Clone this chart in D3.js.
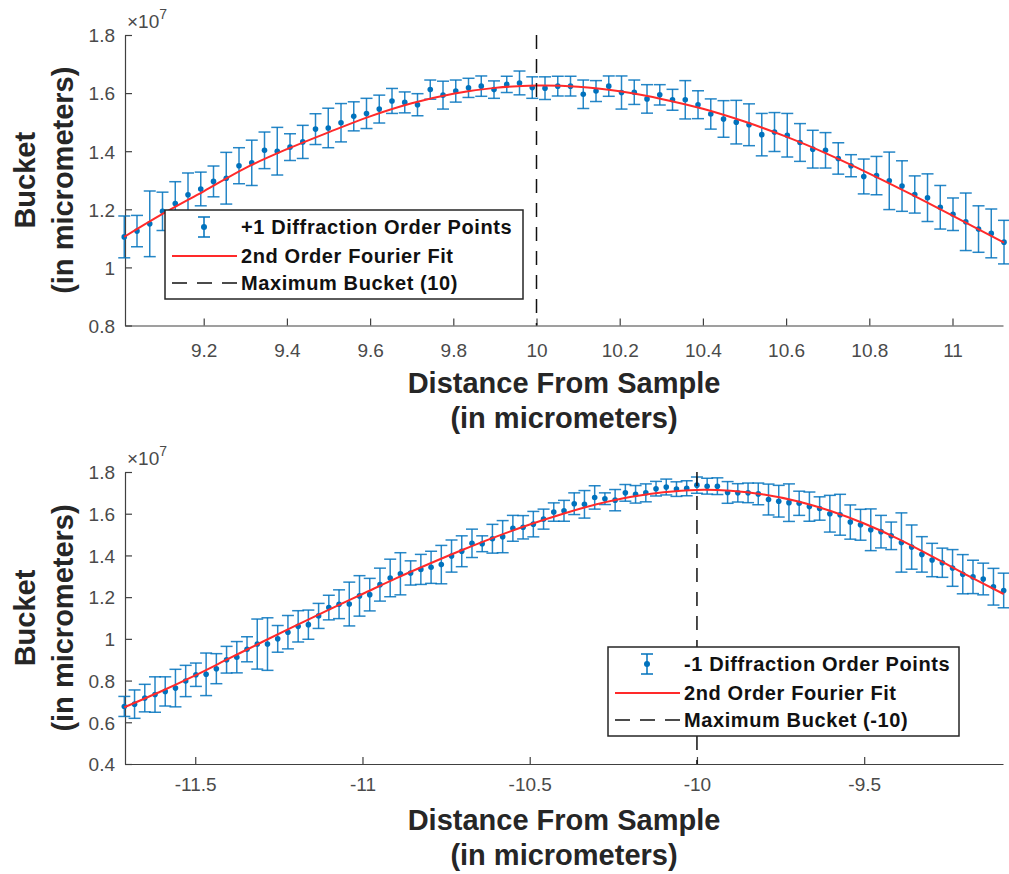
<!DOCTYPE html>
<html>
<head>
<meta charset="utf-8">
<script src="https://cdn.jsdelivr.net/npm/d3@7"></script>
<style>
body { margin: 0; background: #fff; }
svg { display: block; font-family: "Liberation Sans", Arial, Helvetica, sans-serif; }
</style>
</head>
<body>
<script>
// values are in units of 1e7 (the axes show "x10^7")

// +1 diffraction order: distance grid start / step (micrometers)
var plusStart = 9.009, plusStep = 0.03065;
var plusBucket = [1.105,1.125,1.150,1.193,1.220,1.250,1.270,1.296,1.307,1.350,
                  1.360,1.403,1.400,1.414,1.432,1.476,1.480,1.498,1.520,1.530,
                  1.545,1.573,1.568,1.560,1.612,1.593,1.607,1.618,1.624,1.612,
                  1.630,1.635,1.619,1.617,1.624,1.624,1.596,1.607,1.624,1.602,
                  1.603,1.580,1.594,1.577,1.577,1.560,1.528,1.511,1.500,1.491,
                  1.457,1.466,1.455,1.430,1.407,1.403,1.375,1.350,1.313,1.316,
                  1.298,1.280,1.251,1.240,1.207,1.183,1.157,1.132,1.117,1.087];
var plusErr = [0.072,0.054,0.113,0.066,0.075,0.075,0.058,0.053,0.089,0.062,
               0.078,0.063,0.082,0.046,0.057,0.053,0.068,0.066,0.050,0.052,
               0.048,0.043,0.036,0.038,0.033,0.048,0.038,0.033,0.035,0.030,
               0.028,0.041,0.037,0.039,0.034,0.034,0.049,0.036,0.035,0.057,
               0.042,0.049,0.035,0.036,0.066,0.048,0.052,0.063,0.075,0.072,
               0.073,0.067,0.075,0.065,0.065,0.061,0.054,0.038,0.060,0.066,
               0.099,0.087,0.064,0.082,0.075,0.056,0.099,0.080,0.084,0.075];
// fourier fit
var plusFitX = [9.009,9.1,9.2,9.3,9.4,9.5,9.6,9.7,9.8,9.9,10.0,10.1,10.2,10.3,10.4,10.5,10.6,10.7,10.8,10.9,11.0,11.124];
var plusFitY = [1.105,1.183,1.262,1.342,1.407,1.465,1.520,1.565,1.598,1.618,1.626,1.622,1.606,1.580,1.546,1.502,1.450,1.390,1.323,1.252,1.178,1.085];
var plusMax = 10;
var plusTicksX = [9.2,9.4,9.6,9.8,10,10.2,10.4,10.6,10.8,11];
var plusTicksY = [0.8,1,1.2,1.4,1.6,1.8];

// -1 diffraction order
var minusStart = -11.712, minusStep = 0.03057;
var minusBucket = [0.676,0.687,0.716,0.733,0.748,0.764,0.798,0.828,0.830,0.857,
                   0.900,0.912,0.950,0.975,0.975,1.000,1.032,1.060,1.068,1.110,
                   1.150,1.166,1.167,1.206,1.212,1.260,1.292,1.312,1.316,1.333,
                   1.343,1.356,1.397,1.420,1.458,1.456,1.480,1.490,1.530,1.535,
                   1.550,1.574,1.608,1.614,1.648,1.645,1.678,1.672,1.665,1.700,
                   1.693,1.700,1.720,1.728,1.718,1.722,1.737,1.732,1.732,1.702,
                   1.700,1.700,1.695,1.668,1.660,1.653,1.650,1.634,1.625,1.600,
                   1.595,1.560,1.547,1.523,1.514,1.494,1.462,1.440,1.405,1.378,
                   1.365,1.340,1.310,1.297,1.287,1.250,1.232];
var minusErr = [0.048,0.068,0.066,0.085,0.070,0.090,0.075,0.056,0.102,0.072,
                0.064,0.075,0.060,0.120,0.126,0.064,0.080,0.075,0.070,0.060,
                0.059,0.069,0.105,0.097,0.078,0.079,0.090,0.101,0.058,0.072,
                0.077,0.092,0.077,0.074,0.068,0.038,0.069,0.077,0.062,0.056,
                0.061,0.048,0.044,0.050,0.052,0.066,0.056,0.028,0.051,0.040,
                0.042,0.043,0.035,0.038,0.035,0.036,0.039,0.038,0.040,0.052,
                0.044,0.047,0.052,0.074,0.076,0.090,0.058,0.070,0.056,0.088,
                0.098,0.082,0.074,0.100,0.078,0.066,0.142,0.106,0.085,0.080,
                0.070,0.088,0.094,0.080,0.076,0.088,0.083];
var minusFitX = [-11.712,-11.6,-11.5,-11.4,-11.3,-11.2,-11.1,-11.0,-10.9,-10.8,-10.7,-10.6,-10.5,-10.4,-10.3,-10.2,-10.1,-10.0,-9.9,-9.8,-9.7,-9.6,-9.5,-9.4,-9.3,-9.2,-9.083];
var minusFitY = [0.672,0.750,0.825,0.905,0.985,1.063,1.140,1.215,1.290,1.360,1.427,1.490,1.548,1.600,1.645,1.680,1.703,1.714,1.710,1.692,1.660,1.613,1.553,1.481,1.398,1.312,1.215];
var minusMax = -10;
var minusTicksX = [-11.5,-11,-10.5,-10,-9.5];
var minusTicksY = [0.4,0.6,0.8,1,1.2,1.4,1.6,1.8];

var legendLabels = {
    plus: ["+1 Diffraction Order Points", "2nd Order Fourier Fit", "Maximum Bucket (10)"],
    minus: ["-1 Diffraction Order Points", "2nd Order Fourier Fit", "Maximum Bucket (-10)"]
};

var blue = "#0072BD", red = "#ff2a2a", axisColor = "#404040", labelColor = "#262626";

var svg = d3.select("body").append("svg")
    .attr("width", 1009)
    .attr("height", 874);

// plain hyphen minus like the matlab labels
var plainFormat = function(d) { return String(d); };

function drawPanel(p) {
    var x = d3.scaleLinear().domain(p.xDomain).range([125, 1003]);
    var y = d3.scaleLinear().domain(p.yDomain).range([p.bottom, p.top]);
    var g = svg.append("g");

    var pts = p.bucket.map(function(v, i) {
        return {x: p.start + i * p.step, y: v, e: p.err[i]};
    });

    // axes (ticks inward, no box)
    var xAxis = g.append("g")
        .attr("transform", "translate(0," + p.bottom + ")")
        .call(d3.axisBottom(x).tickValues(p.ticksX).tickSize(-7).tickSizeOuter(0)
            .tickFormat(plainFormat));
    var yAxis = g.append("g")
        .attr("transform", "translate(125,0)")
        .call(d3.axisLeft(y).tickValues(p.ticksY).tickSize(-7).tickSizeOuter(0)
            .tickFormat(plainFormat));
    [xAxis, yAxis].forEach(function(a) {
        a.select(".domain").attr("stroke", axisColor).attr("stroke-width", 1.2);
        a.selectAll(".tick line").attr("stroke", axisColor).attr("stroke-width", 1.2);
        a.selectAll(".tick text").attr("fill", "#4a4a4a")
            .style("font-size", "19px").attr("font-family", null);
    });
    xAxis.selectAll(".tick text").attr("y", p.tickBase - p.bottom).attr("dy", 0);
    yAxis.selectAll(".tick text").attr("x", -10).attr("dy", "0.36em");

    // exponent
    var ex = g.append("text").attr("x", 127).attr("y", p.top - 7)
        .attr("fill", "#4a4a4a").style("font-size", "19px").text("\u00d710");
    ex.append("tspan").attr("dy", -9).style("font-size", "14px").text("7");

    // error bars
    var eb = g.append("g").attr("stroke", blue).attr("stroke-width", 1.5).attr("stroke-opacity", 0.85);
    eb.selectAll("line.v").data(pts).join("line").attr("class", "v")
        .attr("x1", d => x(d.x)).attr("x2", d => x(d.x))
        .attr("y1", d => y(d.y - d.e)).attr("y2", d => y(d.y + d.e));
    eb.selectAll("line.t").data(pts).join("line").attr("class", "t")
        .attr("x1", d => x(d.x) - 6).attr("x2", d => x(d.x) + 6)
        .attr("y1", d => y(d.y + d.e)).attr("y2", d => y(d.y + d.e));
    eb.selectAll("line.b").data(pts).join("line").attr("class", "b")
        .attr("x1", d => x(d.x) - 6).attr("x2", d => x(d.x) + 6)
        .attr("y1", d => y(d.y - d.e)).attr("y2", d => y(d.y - d.e));
    g.append("g").selectAll("circle").data(pts).join("circle")
        .attr("cx", d => x(d.x)).attr("cy", d => y(d.y)).attr("r", 2.8)
        .attr("fill", blue);

    // fit
    var fit = p.fitX.map(function(v, i) { return [v, p.fitY[i]]; });
    g.append("path").datum(fit)
        .attr("d", d3.line().x(d => x(d[0])).y(d => y(d[1])).curve(d3.curveCatmullRom))
        .attr("fill", "none").attr("stroke", red).attr("stroke-width", 2);

    // maximum line
    g.append("line")
        .attr("x1", x(p.max)).attr("x2", x(p.max))
        .attr("y1", p.top).attr("y2", p.bottom)
        .attr("stroke", "#111").attr("stroke-width", 1.5).attr("stroke-dasharray", "14,10");

    // axis labels
    g.append("text").attr("transform", "translate(35," + (p.top + p.bottom) / 2 + ") rotate(-90)")
        .attr("text-anchor", "middle").attr("fill", labelColor)
        .style("font-size", "29px").style("font-weight", "bold").text("Bucket");
    g.append("text").attr("transform", "translate(73," + (p.top + p.bottom) / 2 + ") rotate(-90)")
        .attr("text-anchor", "middle").attr("fill", labelColor)
        .style("font-size", "29px").style("font-weight", "bold").text("(in micrometers)");
    g.append("text").attr("x", 564).attr("y", p.labelBase)
        .attr("text-anchor", "middle").attr("fill", labelColor)
        .style("font-size", "29px").style("font-weight", "bold").text("Distance From Sample");
    g.append("text").attr("x", 564).attr("y", p.labelBase + 35)
        .attr("text-anchor", "middle").attr("fill", labelColor)
        .style("font-size", "29px").style("font-weight", "bold").text("(in micrometers)");

    // legend
    var L = p.legend;
    var lg = g.append("g");
    lg.append("rect").attr("x", L.x).attr("y", L.y).attr("width", L.w).attr("height", L.h)
        .attr("fill", "#fff").attr("stroke", "#262626").attr("stroke-width", 1.5);
    var rows = [L.y + 17, L.y + 46, L.y + 73];
    var ix = L.x + 39;
    lg.append("line").attr("x1", ix).attr("x2", ix).attr("y1", rows[0] - 10).attr("y2", rows[0] + 10)
        .attr("stroke", blue).attr("stroke-width", 1.5);
    [-10, 10].forEach(function(o) {
        lg.append("line").attr("x1", ix - 6).attr("x2", ix + 6).attr("y1", rows[0] + o).attr("y2", rows[0] + o)
            .attr("stroke", blue).attr("stroke-width", 1.5);
    });
    lg.append("circle").attr("cx", ix).attr("cy", rows[0]).attr("r", 3).attr("fill", blue);
    lg.append("line").attr("x1", L.x + 7).attr("x2", L.x + 72).attr("y1", rows[1]).attr("y2", rows[1])
        .attr("stroke", red).attr("stroke-width", 2);
    lg.append("line").attr("x1", L.x + 7).attr("x2", L.x + 72).attr("y1", rows[2]).attr("y2", rows[2])
        .attr("stroke", "#111").attr("stroke-width", 1.5).attr("stroke-dasharray", "15,10");
    lg.selectAll("text").data(L.labels).join("text")
        .attr("x", L.x + 76).attr("y", (d, i) => rows[i] + 7)
        .attr("fill", "#111").style("font-size", "20px").style("font-weight", "bold")
        .style("letter-spacing", "0.6px")
        .text(d => d);
}

drawPanel({
    xDomain: [9.0108, 11.1214], yDomain: [0.8, 1.8], top: 35, bottom: 325.5,
    start: plusStart, step: plusStep, bucket: plusBucket, err: plusErr,
    fitX: plusFitX, fitY: plusFitY, max: plusMax,
    ticksX: plusTicksX, ticksY: plusTicksY, tickBase: 357, labelBase: 393,
    legend: {x: 165, y: 210, w: 358, h: 89, labels: legendLabels.plus}
});
drawPanel({
    xDomain: [-11.710, -9.085], yDomain: [0.4, 1.8], top: 472, bottom: 764,
    start: minusStart, step: minusStep, bucket: minusBucket, err: minusErr,
    fitX: minusFitX, fitY: minusFitY, max: minusMax,
    ticksX: minusTicksX, ticksY: minusTicksY, tickBase: 791, labelBase: 830,
    legend: {x: 608, y: 647, w: 351, h: 89, labels: legendLabels.minus}
});
</script>
</body>
</html>
